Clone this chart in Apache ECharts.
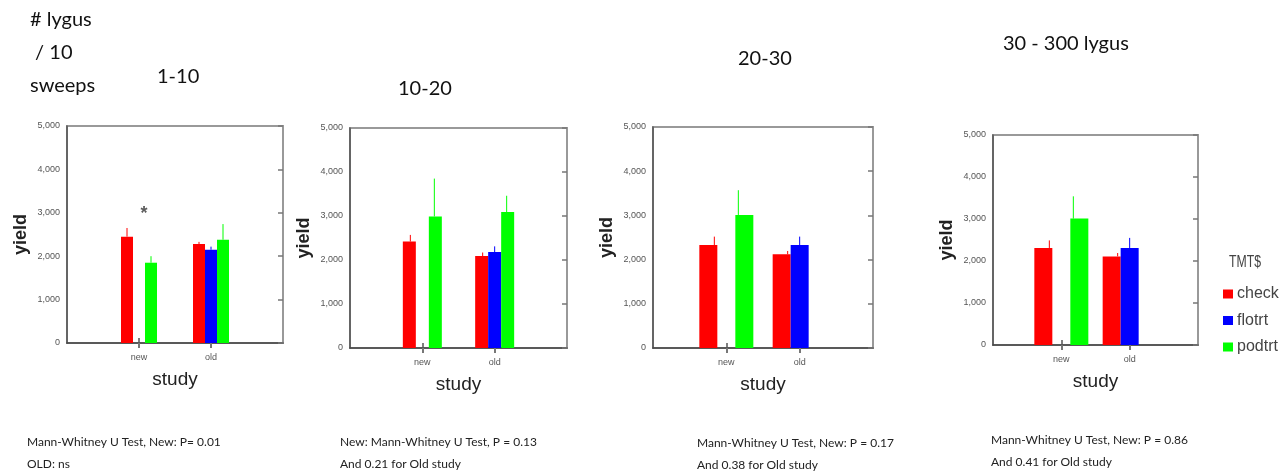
<!DOCTYPE html>
<html><head><meta charset="utf-8">
<script src="https://cdn.jsdelivr.net/npm/echarts@6/dist/echarts.min.js"></script>
<style>html,body{margin:0;padding:0;background:#fff}#c{width:1287px;height:472px}</style>
</head><body><div id="c"></div>
<script>
// ---- data ----
const studies = ['new', 'old'];
const treatments = ['check', 'flotrt', 'podtrt'];
const yTicks = [0, 1000, 2000, 3000, 4000, 5000];

const p1Check = [2450, 2280], p1CheckErr = [2650, 2330];
const p1Flotrt = [null, 2150], p1FlotrtErr = [null, 2220];
const p1Podtrt = [1850, 2380], p1PodtrtErr = [2000, 2740];

const p2Check = [2420, 2090], p2CheckErr = [2570, 2170];
const p2Flotrt = [null, 2180], p2FlotrtErr = [null, 2310];
const p2Podtrt = [2990, 3090], p2PodtrtErr = [3850, 3460];

const p3Check = [2330, 2120], p3CheckErr = [2520, 2195];
const p3Flotrt = [null, 2330], p3FlotrtErr = [null, 2520];
const p3Podtrt = [3010, null], p3PodtrtErr = [3570, null];

const p4Check = [2310, 2110], p4CheckErr = [2490, 2190];
const p4Flotrt = [null, 2310], p4FlotrtErr = [null, 2550];
const p4Podtrt = [3010, null], p4PodtrtErr = [3540, null];

const panelTitles = ['1-10', '10-20', '20-30', '30 - 300 lygus'];
const headerText = '# lygus\n / 10\nsweeps';
const legendTitle = 'TMT$';
const notes = [
  'Mann-Whitney U Test, New: P= 0.01\nOLD: ns',
  'New: Mann-Whitney U Test, P = 0.13\nAnd 0.21 for Old study',
  'Mann-Whitney U Test, New: P = 0.17\nAnd 0.38 for Old study',
  'Mann-Whitney U Test, New: P = 0.86\nAnd 0.41 for Old study'
];
const p1Star = { study: 'new', value: 3050, text: '*' };

// ---- layout / style ----
const panelData = [
  [[p1Check, p1CheckErr], [p1Flotrt, p1FlotrtErr], [p1Podtrt, p1PodtrtErr]],
  [[p2Check, p2CheckErr], [p2Flotrt, p2FlotrtErr], [p2Podtrt, p2PodtrtErr]],
  [[p3Check, p3CheckErr], [p3Flotrt, p3FlotrtErr], [p3Podtrt, p3PodtrtErr]],
  [[p4Check, p4CheckErr], [p4Flotrt, p4FlotrtErr], [p4Podtrt, p4PodtrtErr]]
];
const grids = [
  { left: 67, top: 126, width: 216, height: 217, bw: 12 },
  { left: 350, top: 128, width: 217, height: 220, bw: 13 },
  { left: 653, top: 127, width: 220, height: 221, bw: 18 },
  { left: 993, top: 135, width: 205, height: 210, bw: 18 }
];
const titlePos = [
  { left: 157, top: 67 }, { left: 398, top: 79 }, { left: 738, top: 49 }, { left: 1003, top: 34 }
];
const notePos = [
  { left: 27, top: 431 }, { left: 340, top: 431 }, { left: 697, top: 432 }, { left: 991, top: 429 }
];
const COLORS = ['#ff0000', '#0000ff', '#00ff00'];
const ERR_OFFSET = 12;
const TITLE_FONT = 'Lato, "Open Sans", sans-serif';
const AX_FONT = '"Liberation Sans", Arial, sans-serif';

const axisCats = [''].concat(studies, ['']);
const pad = arr => [null].concat(arr, [null]);

const option = {
  animation: false,
  backgroundColor: '#fff',
  title: [
    { text: headerText, left: 30, top: 3, padding: 0, textStyle: { fontFamily: TITLE_FONT, fontSize: 20, fontWeight: 'normal', color: '#111', lineHeight: 33 } }
  ].concat(panelTitles.map((t, i) => ({
    text: t, left: titlePos[i].left, top: titlePos[i].top, padding: 0,
    textStyle: { fontFamily: TITLE_FONT, fontSize: 20, fontWeight: 'normal', color: '#111' }
  }))).concat(notes.map((t, i) => ({
    text: t, left: notePos[i].left, top: notePos[i].top, padding: 0,
    textStyle: { fontFamily: TITLE_FONT, fontSize: 12, fontWeight: 'normal', color: '#222', lineHeight: 22 }
  }))),
  legend: {
    data: treatments, orient: 'vertical', left: 1223, top: 286, padding: 0,
    icon: 'rect', itemWidth: 10, itemHeight: 9, itemGap: 10.5,
    textStyle: { fontFamily: AX_FONT, fontSize: 16, color: '#444', padding: [0, 0, 0, -1] }
  },
  graphic: [{
    type: 'text', left: 1229, top: 254, scaleX: 0.72,
    style: { text: legendTitle, font: '17px ' + AX_FONT, fill: '#444' }
  }],
  grid: grids.map(g => ({ left: g.left, top: g.top, width: g.width, height: g.height, show: true, borderColor: '#999', borderWidth: 2, backgroundColor: 'transparent' })),
  xAxis: [],
  yAxis: [],
  series: []
};

grids.forEach((g, gi) => {
  option.xAxis.push({
    type: 'category', gridIndex: gi, data: axisCats, boundaryGap: false,
    name: 'study', nameLocation: 'middle', nameGap: 27,
    nameTextStyle: { fontFamily: AX_FONT, fontSize: 19, color: '#222' },
    axisLine: { lineStyle: { color: '#444', width: 1.5 } },
    axisTick: { inside: true, length: 5, lineStyle: { color: '#555', width: 1.5 }, interval: (i, v) => v !== '' },
    axisLabel: { fontFamily: AX_FONT, fontSize: 9, color: '#555', margin: 10, interval: 0 },
    splitLine: { show: false }
  });
  option.xAxis.push({
    type: 'category', gridIndex: gi, data: axisCats, boundaryGap: false, position: 'top',
    axisLine: { show: false },
    axisTick: { inside: true, length: 5, lineStyle: { color: '#777', width: 2 }, interval: (i, v) => v !== '' },
    axisLabel: { show: false }, splitLine: { show: false }
  });
  option.yAxis.push({
    type: 'value', gridIndex: gi, min: yTicks[0], max: yTicks[yTicks.length - 1], interval: yTicks[1] - yTicks[0],
    name: 'yield', nameLocation: 'middle', nameGap: 37, nameRotate: 90,
    nameTextStyle: { fontFamily: AX_FONT, fontSize: 18, fontWeight: 'bold', color: '#222' },
    axisLine: { show: true, lineStyle: { color: '#555', width: 1.5 } },
    axisTick: { show: false },
    axisLabel: { fontFamily: AX_FONT, fontSize: 9, color: '#555', margin: 7 },
    splitLine: { show: false }
  });
  option.yAxis.push({
    type: 'value', gridIndex: gi, position: 'right', min: yTicks[0], max: yTicks[yTicks.length - 1], interval: yTicks[1] - yTicks[0],
    axisLine: { show: false },
    axisTick: { show: true, inside: true, length: 5, lineStyle: { color: '#777', width: 1.5 } },
    axisLabel: { show: false }, splitLine: { show: false }
  });
  const errData = [];
  panelData[gi].forEach((pair, k) => {
    const [vals, errs] = pair;
    option.series.push({
      type: 'bar', name: treatments[k], xAxisIndex: gi * 2, yAxisIndex: gi * 2,
      data: pad(vals), barWidth: g.bw, barGap: '0%',
      itemStyle: { color: COLORS[k] }
    });
    vals.forEach((v, ci) => {
      if (v != null && errs[ci] != null) errData.push([ci + 1, k, v, errs[ci]]);
    });
  });
  option.series.push({
    type: 'custom', name: 'err' + gi, xAxisIndex: gi * 2, yAxisIndex: gi * 2,
    data: errData, encode: { x: 0, y: [2, 3] }, z: 3,
    renderItem: (params, api) => {
      const cat = api.value(0), k = api.value(1);
      const a = api.coord([cat, api.value(2)]);
      const b = api.coord([cat, api.value(3)]);
      const dx = (k - 1) * ERR_OFFSET;
      return { type: 'line', shape: { x1: a[0] + dx, y1: a[1], x2: b[0] + dx, y2: b[1] }, style: { stroke: COLORS[k], lineWidth: 1 } };
    }
  });
});

// asterisk annotation on panel 1
option.series.push({
  type: 'scatter', name: 'star', xAxisIndex: 0, yAxisIndex: 0,
  data: [[axisCats.indexOf(p1Star.study), p1Star.value]], symbolSize: 0, z: 5,
  label: { show: true, position: 'inside', formatter: p1Star.text, offset: [5, 3], fontFamily: AX_FONT, fontSize: 18, fontWeight: 'bold', color: '#333' }
});

const chart = echarts.init(document.getElementById('c'), null, { renderer: 'canvas' });
chart.setOption(option);
</script>
</body></html>
